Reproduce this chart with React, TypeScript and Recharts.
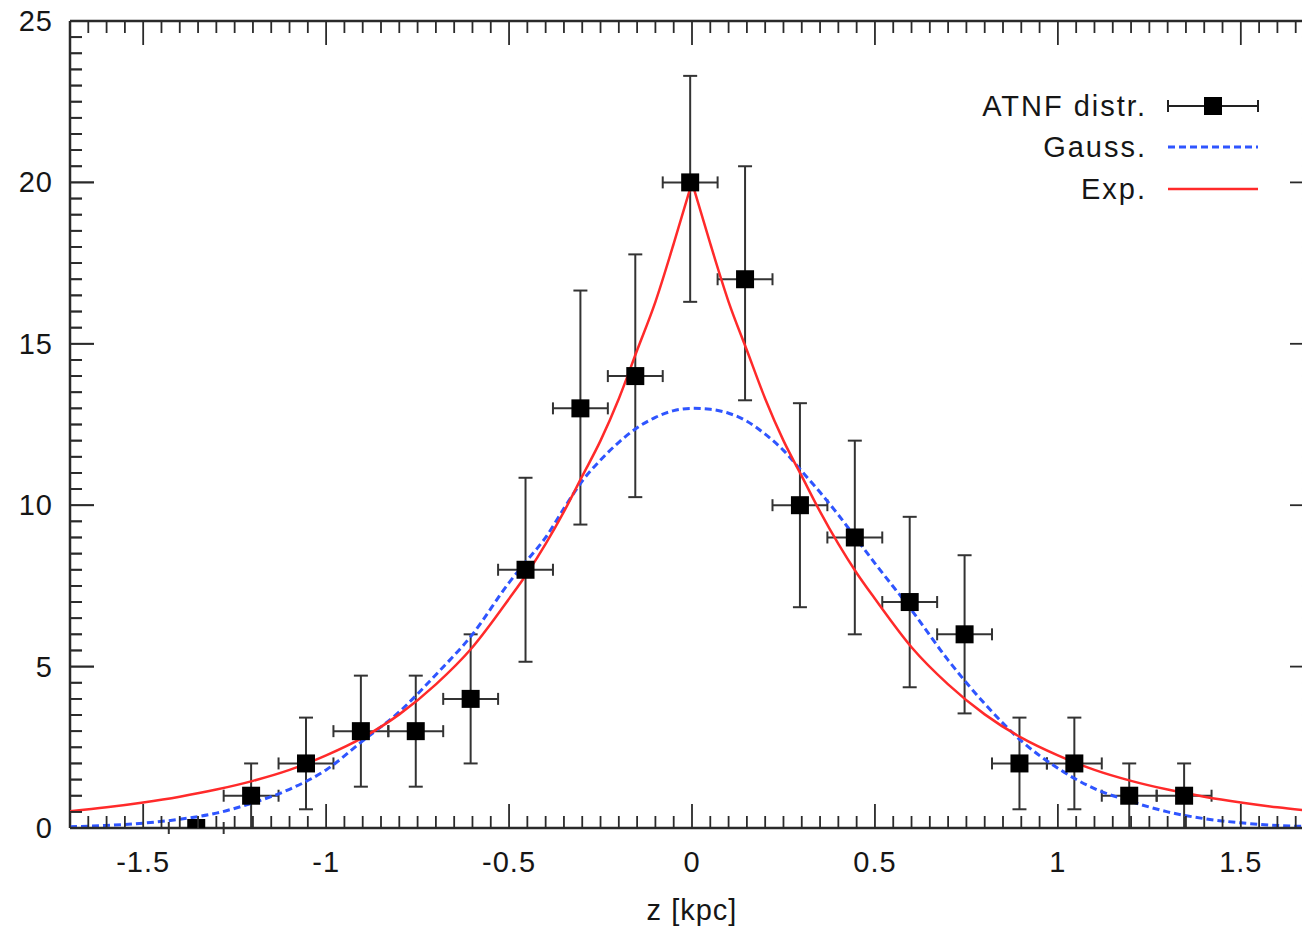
import React from "react";
import {
  ComposedChart,
  Line,
  Scatter,
  ErrorBar,
  XAxis,
  YAxis,
  ReferenceLine,
} from "recharts";

// ATNF pulsar counts per z bin
const zCenters = [
  -1.355, -1.205, -1.055, -0.905, -0.755, -0.605, -0.455, -0.305, -0.155,
  -0.005, 0.145, 0.295, 0.445, 0.595, 0.745, 0.895, 1.045, 1.195, 1.345,
];
const counts = [0, 1, 2, 3, 3, 4, 8, 13, 14, 20, 17, 10, 9, 7, 6, 2, 2, 1, 1];
const errLow = [
  0, 1, 1.42, 1.72, 1.72, 2, 2.85, 3.6, 3.75, 3.7, 3.75, 3.16, 3, 2.64, 2.45,
  1.42, 1.42, 1, 1,
];
const errHigh = [
  0, 1, 1.42, 1.72, 1.72, 2, 2.85, 3.65, 3.77, 3.3, 3.5, 3.16, 3, 2.64, 2.45,
  1.42, 1.42, 1, 1,
];
const binHalfWidth = 0.075;

// fitted curves
const curveZ = [
  -1.7, -1.6, -1.5, -1.4, -1.3, -1.2, -1.1, -1.0, -0.9, -0.8, -0.7, -0.6, -0.5,
  -0.45, -0.4, -0.35, -0.3, -0.25, -0.2, -0.15, -0.1, -0.05, 0, 0.05, 0.1, 0.15,
  0.2, 0.25, 0.3, 0.35, 0.4, 0.45, 0.5, 0.6, 0.7, 0.8, 0.9, 1.0, 1.1, 1.2, 1.3,
  1.4, 1.5, 1.6, 1.7,
];
const gaussVals = [
  0.04, 0.08, 0.15, 0.27, 0.46, 0.78, 1.2, 1.8, 2.7, 3.6, 4.75, 6.0, 7.6, 8.3,
  9.0, 9.9, 10.75, 11.4, 11.95, 12.4, 12.72, 12.93, 13, 12.97, 12.85, 12.6,
  12.2, 11.7, 11.05, 10.4, 9.7, 8.95, 8.2, 6.75, 5.2, 3.85, 2.7, 1.85, 1.22,
  0.82, 0.5, 0.29, 0.16, 0.08, 0.04,
];
const expVals = [
  0.52, 0.64, 0.79, 0.97, 1.19, 1.46, 1.8, 2.25, 2.8, 3.52, 4.45, 5.6, 7.1, 7.9,
  8.8, 9.8, 10.9, 12.0, 13.3, 14.8, 16.3, 18.1, 20, 18.1, 16.3, 14.8, 13.3,
  12.0, 10.9, 9.8, 8.8, 7.9, 7.1, 5.6, 4.45, 3.52, 2.8, 2.25, 1.8, 1.46, 1.19,
  0.97, 0.79, 0.64, 0.52,
];

const X_MIN = -1.7;
const X_MAX = 1.7;
const Y_MAX = 25;
const xMajorTicks = [-1.5, -1, -0.5, 0, 0.5, 1, 1.5];
const yMajorTicks = [0, 5, 10, 15, 20, 25];
const legendLabels = ["ATNF distr.", "Gauss.", "Exp."];

const xTicks: number[] = [];
for (let i = -34; i <= 34; i++) xTicks.push(Math.round(i * 5) / 100 + 0);
const yTicks: number[] = [];
for (let i = 0; i <= 50; i++) yTicks.push(i / 2);

const points = zCenters.map((z, i) => ({
  z,
  y: counts[i],
  ex: binHalfWidth,
  ey: [errLow[i], errHigh[i]],
}));
const gaussData = curveZ.map((z, i) => ({ z, y: gaussVals[i] }));
const expAll = curveZ.map((z, i) => ({ z, y: expVals[i] }));
const expLeft = expAll.filter((d) => d.z <= 0);
const expRight = expAll.filter((d) => d.z >= 0);

const FRAME = "#2a2a2a";
const TEXT = "#161616";
const RED = "#ff2a2a";
const BLUE = "#2f55ff";
const FONT = "'Liberation Sans', Arial, sans-serif";

// tick mark lengths in axis units (about 24px / 12px on this plot)
const X_TICK_MAJOR = 0.0656;
const X_TICK_MINOR = 0.0328;
const Y_TICK_MAJOR = 0.743;
const Y_TICK_MINOR = 0.372;

const isMajor = (v: number, step: number) =>
  Math.abs(v / step - Math.round(v / step)) < 1e-6;

const BottomTick = (props: any) => {
  const { x, y, payload } = props;
  const v = payload.value;
  const major = isMajor(v, 0.5);
  return (
    <g>
      <line x1={x} y1={y} x2={x} y2={y - (major ? 24 : 12)} stroke={FRAME} strokeWidth={1.8} />
      {major && xMajorTicks.includes(v) && (
        <text
          x={x}
          y={y + 34}
          textAnchor="middle"
          dominantBaseline="central"
          fontSize={29}
          letterSpacing={1}
          fill={TEXT}
          fontFamily={FONT}
        >
          {String(v)}
        </text>
      )}
    </g>
  );
};

const LeftTick = (props: any) => {
  const { x, y, payload } = props;
  const v = payload.value;
  const major = isMajor(v, 5);
  return (
    <g>
      <line x1={x} y1={y} x2={x + (major ? 24 : 12)} y2={y} stroke={FRAME} strokeWidth={1.8} />
      {yMajorTicks.includes(v) && (
        <text
          x={x - 17}
          y={y}
          textAnchor="end"
          dominantBaseline="central"
          fontSize={29}
          letterSpacing={1}
          fill={TEXT}
          fontFamily={FONT}
        >
          {String(v)}
        </text>
      )}
    </g>
  );
};

const Square = (props: any) => {
  const { cx, cy } = props;
  if (cx == null || cy == null) return null;
  return <rect x={cx - 9} y={cy - 9} width={18} height={18} fill="#000" />;
};

function LegendBox() {
  const textX = 187;
  const x1 = 208;
  const x2 = 298;
  const rows = [26, 67, 109];
  const textProps = {
    x: textX,
    textAnchor: "end" as const,
    dominantBaseline: "central" as const,
    fontSize: 29,
    letterSpacing: 2,
    fill: TEXT,
    fontFamily: FONT,
  };
  return (
    <svg width={320} height={140} style={{ overflow: "visible", display: "block" }}>
      <text {...textProps} y={rows[0]}>{legendLabels[0]}</text>
      <line x1={x1} y1={rows[0]} x2={x2} y2={rows[0]} stroke="#222" strokeWidth={2} />
      <line x1={x1} y1={rows[0] - 6} x2={x1} y2={rows[0] + 6} stroke="#222" strokeWidth={2} />
      <line x1={x2} y1={rows[0] - 6} x2={x2} y2={rows[0] + 6} stroke="#222" strokeWidth={2} />
      <rect x={(x1 + x2) / 2 - 9} y={rows[0] - 9} width={18} height={18} fill="#000" />

      <text {...textProps} y={rows[1]}>{legendLabels[1]}</text>
      <line x1={x1} y1={rows[1]} x2={x2} y2={rows[1]} stroke={BLUE} strokeWidth={3} strokeDasharray="7 4" />

      <text {...textProps} y={rows[2]}>{legendLabels[2]}</text>
      <line x1={x1} y1={rows[2]} x2={x2} y2={rows[2]} stroke={RED} strokeWidth={2.5} />
    </svg>
  );
}

export default function App() {
  return (
    <div
      style={{
        position: "fixed",
        left: 0,
        top: 0,
        width: 1302,
        height: 929,
        overflow: "hidden",
        background: "#fff",
        fontFamily: FONT,
      }}
    >
      <ComposedChart
        width={1330}
        height={929}
        margin={{ top: 21, right: 16, bottom: 0, left: 0 }}
      >
        <XAxis
          dataKey="z"
          type="number"
          domain={[X_MIN, X_MAX]}
          allowDataOverflow
          ticks={xTicks}
          interval={0}
          height={101}
          tickSize={0}
          tickMargin={0}
          tickLine={false}
          axisLine={{ stroke: FRAME, strokeWidth: 2.5 }}
          tick={(p: any) => <BottomTick {...p} />}
          label={{
            value: "z [kpc]",
            position: "insideBottom",
            offset: 9,
            fontSize: 29,
            letterSpacing: 1,
            fill: TEXT,
            fontFamily: FONT,
          }}
        />
        <YAxis
          dataKey="y"
          type="number"
          domain={[0, Y_MAX]}
          allowDataOverflow
          ticks={yTicks}
          interval={0}
          width={70}
          tickSize={0}
          tickMargin={0}
          tickLine={false}
          axisLine={false}
          tick={(p: any) => <LeftTick {...p} />}
        />

        {/* frame edges */}
        <ReferenceLine x={X_MIN} stroke={FRAME} strokeWidth={2.5} ifOverflow="visible" />
        <ReferenceLine y={Y_MAX} stroke={FRAME} strokeWidth={2.5} ifOverflow="visible" />
        <ReferenceLine x={X_MAX} stroke={FRAME} strokeWidth={2.5} ifOverflow="visible" />

        {/* inward tick marks on left, right and top edges */}
        {yTicks.map((v) => (
          <ReferenceLine
            key={`l${v}`}
            segment={[
              { x: X_MIN, y: v },
              { x: X_MIN + (isMajor(v, 5) ? X_TICK_MAJOR : X_TICK_MINOR), y: v },
            ]}
            stroke={FRAME}
            strokeWidth={1.8}
            ifOverflow="visible"
          />
        ))}
        {yTicks.map((v) => (
          <ReferenceLine
            key={`r${v}`}
            segment={[
              { x: X_MAX, y: v },
              { x: X_MAX - (isMajor(v, 5) ? X_TICK_MAJOR : X_TICK_MINOR), y: v },
            ]}
            stroke={FRAME}
            strokeWidth={1.8}
            ifOverflow="visible"
          />
        ))}
        {xTicks.map((v) => (
          <ReferenceLine
            key={`t${v}`}
            segment={[
              { x: v, y: Y_MAX },
              { x: v, y: Y_MAX - (isMajor(v, 0.5) ? Y_TICK_MAJOR : Y_TICK_MINOR) },
            ]}
            stroke={FRAME}
            strokeWidth={1.8}
            ifOverflow="visible"
          />
        ))}

        <Scatter
          data={points}
          dataKey="y"
          name="ATNF distr."
          shape={(p: any) => <Square {...p} />}
          isAnimationActive={false}
        >
          <ErrorBar dataKey="ey" direction="y" width={7} stroke="#333" strokeWidth={2} />
          <ErrorBar dataKey="ex" direction="x" width={6} stroke="#333" strokeWidth={2} />
        </Scatter>
        <Line
          data={gaussData}
          dataKey="y"
          name="Gauss."
          type="monotone"
          stroke={BLUE}
          strokeWidth={3}
          strokeDasharray="7 4"
          dot={false}
          activeDot={false}
          isAnimationActive={false}
        />
        <Line
          data={expLeft}
          dataKey="y"
          name="Exp."
          type="monotone"
          stroke={RED}
          strokeWidth={2.5}
          dot={false}
          activeDot={false}
          isAnimationActive={false}
        />
        <Line
          data={expRight}
          dataKey="y"
          name="Exp. "
          type="monotone"
          stroke={RED}
          strokeWidth={2.5}
          dot={false}
          activeDot={false}
          isAnimationActive={false}
        />
      </ComposedChart>
      <div style={{ position: "absolute", left: 960, top: 80, pointerEvents: "none" }}>
        <LegendBox />
      </div>
    </div>
  );
}
